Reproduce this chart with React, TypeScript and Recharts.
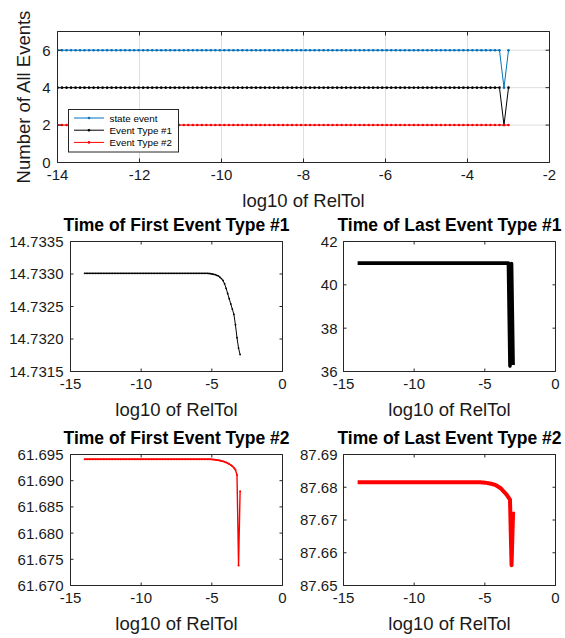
import React from "react";
import {
  CartesianGrid,
  Legend,
  Line,
  LineChart,
  ReferenceLine,
  XAxis,
  YAxis,
} from "recharts";

const W = 565;
const H = 638;
const YW = 40;
const XH = 30;
const FONT = '"Liberation Sans", Arial, Helvetica, sans-serif';
const AX = "#262626";

// log10(RelTol) sweep, shared by every panel
const relTol = [
  -14, -13.89, -13.78, -13.67, -13.56, -13.45, -13.34, -13.23, -13.12, -13.01,
  -12.9, -12.79, -12.68, -12.57, -12.46, -12.35, -12.24, -12.13, -12.02, -11.91,
  -11.8, -11.69, -11.58, -11.47, -11.36, -11.25, -11.14, -11.03, -10.92, -10.81,
  -10.7, -10.59, -10.48, -10.37, -10.26, -10.15, -10.04, -9.93, -9.82, -9.71,
  -9.6, -9.49, -9.38, -9.27, -9.16, -9.05, -8.94, -8.83, -8.72, -8.61,
  -8.5, -8.39, -8.28, -8.17, -8.06, -7.95, -7.84, -7.73, -7.62, -7.51,
  -7.4, -7.29, -7.18, -7.07, -6.96, -6.85, -6.74, -6.63, -6.52, -6.41,
  -6.3, -6.19, -6.08, -5.97, -5.86, -5.75, -5.64, -5.53, -5.42, -5.31,
  -5.2, -5.09, -4.98, -4.87, -4.76, -4.65, -4.54, -4.43, -4.32, -4.21,
  -4.1, -3.99, -3.88, -3.77, -3.66, -3.55, -3.44, -3.33, -3.22, -3.11,
  -3,
];

const stateCount = [
  6, 6, 6, 6, 6, 6, 6, 6, 6, 6,
  6, 6, 6, 6, 6, 6, 6, 6, 6, 6,
  6, 6, 6, 6, 6, 6, 6, 6, 6, 6,
  6, 6, 6, 6, 6, 6, 6, 6, 6, 6,
  6, 6, 6, 6, 6, 6, 6, 6, 6, 6,
  6, 6, 6, 6, 6, 6, 6, 6, 6, 6,
  6, 6, 6, 6, 6, 6, 6, 6, 6, 6,
  6, 6, 6, 6, 6, 6, 6, 6, 6, 6,
  6, 6, 6, 6, 6, 6, 6, 6, 6, 6,
  6, 6, 6, 6, 6, 6, 6, 6, 6, 4,
  6,
];

const type1Count = [
  4, 4, 4, 4, 4, 4, 4, 4, 4, 4,
  4, 4, 4, 4, 4, 4, 4, 4, 4, 4,
  4, 4, 4, 4, 4, 4, 4, 4, 4, 4,
  4, 4, 4, 4, 4, 4, 4, 4, 4, 4,
  4, 4, 4, 4, 4, 4, 4, 4, 4, 4,
  4, 4, 4, 4, 4, 4, 4, 4, 4, 4,
  4, 4, 4, 4, 4, 4, 4, 4, 4, 4,
  4, 4, 4, 4, 4, 4, 4, 4, 4, 4,
  4, 4, 4, 4, 4, 4, 4, 4, 4, 4,
  4, 4, 4, 4, 4, 4, 4, 4, 4, 2,
  4,
];

const type2Count = [
  2, 2, 2, 2, 2, 2, 2, 2, 2, 2,
  2, 2, 2, 2, 2, 2, 2, 2, 2, 2,
  2, 2, 2, 2, 2, 2, 2, 2, 2, 2,
  2, 2, 2, 2, 2, 2, 2, 2, 2, 2,
  2, 2, 2, 2, 2, 2, 2, 2, 2, 2,
  2, 2, 2, 2, 2, 2, 2, 2, 2, 2,
  2, 2, 2, 2, 2, 2, 2, 2, 2, 2,
  2, 2, 2, 2, 2, 2, 2, 2, 2, 2,
  2, 2, 2, 2, 2, 2, 2, 2, 2, 2,
  2, 2, 2, 2, 2, 2, 2, 2, 2, 2,
  2,
];

const firstT1 = [
  14.73301, 14.73301, 14.73301, 14.73301, 14.73301, 14.73301, 14.73301, 14.73301, 14.73301, 14.73301,
  14.73301, 14.73301, 14.73301, 14.73301, 14.73301, 14.73301, 14.73301, 14.73301, 14.73301, 14.73301,
  14.73301, 14.73301, 14.73301, 14.73301, 14.73301, 14.73301, 14.73301, 14.73301, 14.73301, 14.73301,
  14.73301, 14.73301, 14.73301, 14.73301, 14.73301, 14.73301, 14.73301, 14.73301, 14.73301, 14.73301,
  14.73301, 14.73301, 14.73301, 14.73301, 14.73301, 14.73301, 14.73301, 14.73301, 14.73301, 14.73301,
  14.73301, 14.73301, 14.73301, 14.73301, 14.73301, 14.73301, 14.73301, 14.73301, 14.73301, 14.73301,
  14.73301, 14.73301, 14.73301, 14.73301, 14.73301, 14.73301, 14.73301, 14.73301, 14.73301, 14.73301,
  14.73301, 14.73301, 14.73301, 14.73301, 14.73301, 14.73301, 14.73301, 14.73301, 14.73301, 14.73301,
  14.733008, 14.733005, 14.733, 14.732995, 14.73299, 14.73298, 14.73297, 14.73295, 14.73293, 14.7329,
  14.73285, 14.73278, 14.7327, 14.73262, 14.73254, 14.73246, 14.73238, 14.73222, 14.73202, 14.73186,
  14.73176,
];

const lastT1 = [
  41, 41, 41, 41, 41, 41, 41, 41, 41, 41,
  41, 41, 41, 41, 41, 41, 41, 41, 41, 41,
  41, 41, 41, 41, 41, 41, 41, 41, 41, 41,
  41, 41, 41, 41, 41, 41, 41, 41, 41, 41,
  41, 41, 41, 41, 41, 41, 41, 41, 41, 41,
  41, 41, 41, 41, 41, 41, 41, 41, 41, 41,
  41, 41, 41, 41, 41, 41, 41, 41, 41, 41,
  41, 41, 41, 41, 41, 41, 41, 41, 41, 41,
  41, 41, 41, 41, 41, 41, 41, 41, 41, 41,
  41, 41, 41, 41, 41, 41, 41, 41, 36.25, 40.98,
  36.3,
];

const firstT2 = [
  61.6941, 61.6941, 61.6941, 61.6941, 61.6941, 61.6941, 61.6941, 61.6941, 61.6941, 61.6941,
  61.6941, 61.6941, 61.6941, 61.6941, 61.6941, 61.6941, 61.6941, 61.6941, 61.6941, 61.6941,
  61.6941, 61.6941, 61.6941, 61.6941, 61.6941, 61.6941, 61.6941, 61.6941, 61.6941, 61.6941,
  61.6941, 61.6941, 61.6941, 61.6941, 61.6941, 61.6941, 61.6941, 61.6941, 61.6941, 61.6941,
  61.6941, 61.6941, 61.6941, 61.6941, 61.6941, 61.6941, 61.6941, 61.6941, 61.6941, 61.6941,
  61.6941, 61.6941, 61.6941, 61.6941, 61.6941, 61.6941, 61.6941, 61.6941, 61.6941, 61.6941,
  61.6941, 61.6941, 61.6941, 61.6941, 61.6941, 61.6941, 61.6941, 61.6941, 61.6941, 61.6941,
  61.6941, 61.6941, 61.6941, 61.6941, 61.6941, 61.6941, 61.6941, 61.6941, 61.6941, 61.6941,
  61.69409, 61.69408, 61.69406, 61.69403, 61.694, 61.69396, 61.69391, 61.69385, 61.69378, 61.6937,
  61.6936, 61.69348, 61.69334, 61.69318, 61.693, 61.69276, 61.69246, 61.6921, 61.6911, 61.6738,
  61.688,
];

const lastT2 = [
  87.6815, 87.6815, 87.6815, 87.6815, 87.6815, 87.6815, 87.6815, 87.6815, 87.6815, 87.6815,
  87.6815, 87.6815, 87.6815, 87.6815, 87.6815, 87.6815, 87.6815, 87.6815, 87.6815, 87.6815,
  87.6815, 87.6815, 87.6815, 87.6815, 87.6815, 87.6815, 87.6815, 87.6815, 87.6815, 87.6815,
  87.6815, 87.6815, 87.6815, 87.6815, 87.6815, 87.6815, 87.6815, 87.6815, 87.6815, 87.6815,
  87.6815, 87.6815, 87.6815, 87.6815, 87.6815, 87.6815, 87.6815, 87.6815, 87.6815, 87.6815,
  87.6815, 87.6815, 87.6815, 87.6815, 87.6815, 87.6815, 87.6815, 87.6815, 87.6815, 87.6815,
  87.6815, 87.6815, 87.6815, 87.6815, 87.6815, 87.6815, 87.6815, 87.6815, 87.6815, 87.6815,
  87.6815, 87.6815, 87.6815, 87.6815, 87.6815, 87.6815, 87.6815, 87.6815, 87.6815, 87.6815,
  87.68148, 87.68145, 87.6814, 87.68133, 87.68125, 87.68115, 87.68105, 87.68093, 87.6808, 87.6806,
  87.6803, 87.68, 87.6797, 87.6792, 87.6787, 87.6782, 87.6776, 87.6769, 87.6762, 87.6562,
  87.6725,
];

const countXTicks = [-14, -12, -10, -8, -6, -4, -2];
const countYTicks = [0, 2, 4, 6];
const timeXTicks = [-15, -10, -5, 0];
const firstT1Ticks = [14.7315, 14.732, 14.7325, 14.733, 14.7335];
const lastT1Ticks = [36, 38, 40, 42];
const firstT2Ticks = [61.67, 61.675, 61.68, 61.685, 61.69, 61.695];
const lastT2Ticks = [87.65, 87.66, 87.67, 87.68, 87.69];

const legendNames = ["state event", "Event Type #1", "Event Type #2"];
const legendColors = ["#0072BD", "#000000", "#ff0000"];

type Box = { left: number; top: number; right: number; bottom: number };
type Series = { key: string; color: string; width: number; dot: number };

const BLUE = "#0072BD";

function makeXTick(box: Box, len: number) {
  return (p: any) => (
    <g>
      <line x1={p.x} x2={p.x} y1={box.bottom} y2={box.bottom - len} stroke={AX} />
      <line x1={p.x} x2={p.x} y1={box.top} y2={box.top + len} stroke={AX} />
      <text x={p.x} y={box.bottom + 17.5} textAnchor="middle" fontSize={15} fill="#1a1a1a">
        {p.payload.value}
      </text>
    </g>
  );
}

function makeYTick(box: Box, len: number, digits: number, gap: number) {
  return (p: any) => (
    <g>
      <line x1={box.left} x2={box.left + len} y1={p.y} y2={p.y} stroke={AX} />
      <line x1={box.right} x2={box.right - len} y1={p.y} y2={p.y} stroke={AX} />
      <text x={box.left - gap} y={p.y + 5.4} textAnchor="end" fontSize={15} fill="#1a1a1a">
        {Number(p.payload.value).toFixed(digits)}
      </text>
    </g>
  );
}

function CountLegend() {
  return (
    <svg width={111} height={44} style={{ display: "block" }}>
      <rect x={0.5} y={0.5} width={110} height={42.5} fill="#fff" stroke={AX} strokeWidth={1} />
      {legendNames.map((name, i) => {
        const cy = 9 + i * 12.2;
        return (
          <g key={name}>
            <line x1={6} x2={36} y1={cy} y2={cy} stroke={legendColors[i]} strokeWidth={1} />
            <circle cx={21} cy={cy} r={1.3} fill={legendColors[i]} />
            <text x={41.5} y={cy + 3.5} fontSize={9.8} fill="#000" fontFamily={FONT}>
              {name}
            </text>
          </g>
        );
      })}
    </svg>
  );
}

function Panel(props: {
  box: Box;
  data: any[];
  series: Series[];
  xDomain: [number, number];
  xTicks: number[];
  yDomain: [number, number];
  yTicks: number[];
  yDigits: number;
  tickLen: number;
  yGap: number;
  grid?: boolean;
  title?: string;
  ylabel?: string;
  legend?: boolean;
}) {
  const { box, data, series, xDomain, xTicks, yDomain, yTicks } = props;
  const margin = {
    top: box.top,
    left: box.left - YW,
    right: W - box.right,
    bottom: H - box.bottom - XH,
  };
  const cx = (box.left + box.right) / 2;
  const cy = (box.top + box.bottom) / 2;
  return (
    <div style={{ position: "absolute", left: 0, top: 0 }}>
      <LineChart width={W} height={H} data={data} margin={margin}>
        {props.grid && <CartesianGrid stroke="#dedede" strokeWidth={1} />}
        <XAxis
          dataKey="x"
          type="number"
          domain={xDomain}
          ticks={xTicks}
          interval={0}
          allowDataOverflow
          height={XH}
          tickLine={false}
          axisLine={{ stroke: AX }}
          tick={makeXTick(box, props.tickLen)}
        />
        <YAxis
          type="number"
          domain={yDomain}
          ticks={yTicks}
          interval={0}
          allowDataOverflow
          width={YW}
          tickLine={false}
          axisLine={{ stroke: AX }}
          tick={makeYTick(box, props.tickLen, props.yDigits, props.yGap)}
        />
        <ReferenceLine y={yDomain[1]} stroke={AX} strokeWidth={1} />
        <ReferenceLine x={xDomain[1]} stroke={AX} strokeWidth={1} />
        {series.map((s) => (
          <Line
            key={s.key}
            dataKey={s.key}
            type="linear"
            stroke={s.color}
            strokeWidth={s.width}
            strokeLinejoin="round"
            dot={s.dot > 0 ? { r: s.dot, fill: s.color, stroke: "none" } : false}
            activeDot={false}
            isAnimationActive={false}
          />
        ))}
        {props.legend && (
          <Legend
            layout="vertical"
            align="center"
            verticalAlign="middle"
            wrapperStyle={{ left: 68, top: 109, width: 111, height: 44 }}
            content={() => <CountLegend />}
          />
        )}
        {props.title && (
          <text
            x={cx}
            y={box.top - 10.5}
            textAnchor="middle"
            fontSize={17.5}
            fontWeight="bold"
            fill="#000"
          >
            {props.title}
          </text>
        )}
        <text x={cx} y={box.bottom + 44} textAnchor="middle" fontSize={18.5} fill="#1a1a1a">
          log10 of RelTol
        </text>
        {props.ylabel && (
          <text
            x={23}
            y={cy}
            textAnchor="middle"
            dominantBaseline="central"
            fontSize={18.5}
            fill="#1a1a1a"
            transform={`rotate(-90 23 ${cy})`}
          >
            {props.ylabel}
          </text>
        )}
      </LineChart>
    </div>
  );
}

export default function App() {
  const countRows = relTol.map((x, i) => ({
    x,
    state: stateCount[i],
    t1: type1Count[i],
    t2: type2Count[i],
  }));
  const rows = (vals: number[]) => relTol.map((x, i) => ({ x, v: vals[i] }));

  const topBox = { left: 57.5, top: 31.5, right: 549.5, bottom: 162.5 };
  const p1 = { left: 70.5, top: 241.5, right: 282.5, bottom: 371.5 };
  const p2 = { left: 343.5, top: 241.5, right: 555.5, bottom: 371.5 };
  const p3 = { left: 70.5, top: 454.5, right: 282.5, bottom: 585.5 };
  const p4 = { left: 343.5, top: 454.5, right: 555.5, bottom: 585.5 };

  return (
    <div
      style={{
        position: "absolute",
        left: 0,
        top: 0,
        width: W,
        height: H,
        background: "#fff",
        fontFamily: FONT,
      }}
    >
      <Panel
        box={topBox}
        data={countRows}
        series={[
          { key: "state", color: BLUE, width: 1, dot: 1.3 },
          { key: "t1", color: "#000000", width: 1, dot: 1.3 },
          { key: "t2", color: "#ff0000", width: 1, dot: 1.3 },
        ]}
        xDomain={[-14, -2]}
        xTicks={countXTicks}
        yDomain={[0, 7]}
        yTicks={countYTicks}
        yDigits={0}
        tickLen={4}
        yGap={7}
        grid
        ylabel="Number of All Events"
        legend
      />
      <Panel
        box={p1}
        data={rows(firstT1)}
        series={[{ key: "v", color: "#000000", width: 1, dot: 0.9 }]}
        xDomain={[-15, 0]}
        xTicks={timeXTicks}
        yDomain={[14.7315, 14.7335]}
        yTicks={firstT1Ticks}
        yDigits={4}
        tickLen={3}
        yGap={7}
        title="Time of First Event Type #1"
      />
      <Panel
        box={p2}
        data={rows(lastT1)}
        series={[{ key: "v", color: "#000000", width: 3.6, dot: 0 }]}
        xDomain={[-15, 0]}
        xTicks={timeXTicks}
        yDomain={[36, 42]}
        yTicks={lastT1Ticks}
        yDigits={0}
        tickLen={3}
        yGap={6}
        title="Time of Last Event Type #1"
      />
      <Panel
        box={p3}
        data={rows(firstT2)}
        series={[{ key: "v", color: "#ff0000", width: 1.4, dot: 1 }]}
        xDomain={[-15, 0]}
        xTicks={timeXTicks}
        yDomain={[61.67, 61.695]}
        yTicks={firstT2Ticks}
        yDigits={3}
        tickLen={3}
        yGap={7}
        title="Time of First Event Type #2"
      />
      <Panel
        box={p4}
        data={rows(lastT2)}
        series={[{ key: "v", color: "#ff0000", width: 4, dot: 0 }]}
        xDomain={[-15, 0]}
        xTicks={timeXTicks}
        yDomain={[87.65, 87.69]}
        yTicks={lastT2Ticks}
        yDigits={2}
        tickLen={3}
        yGap={6}
        title="Time of Last Event Type #2"
      />
    </div>
  );
}
